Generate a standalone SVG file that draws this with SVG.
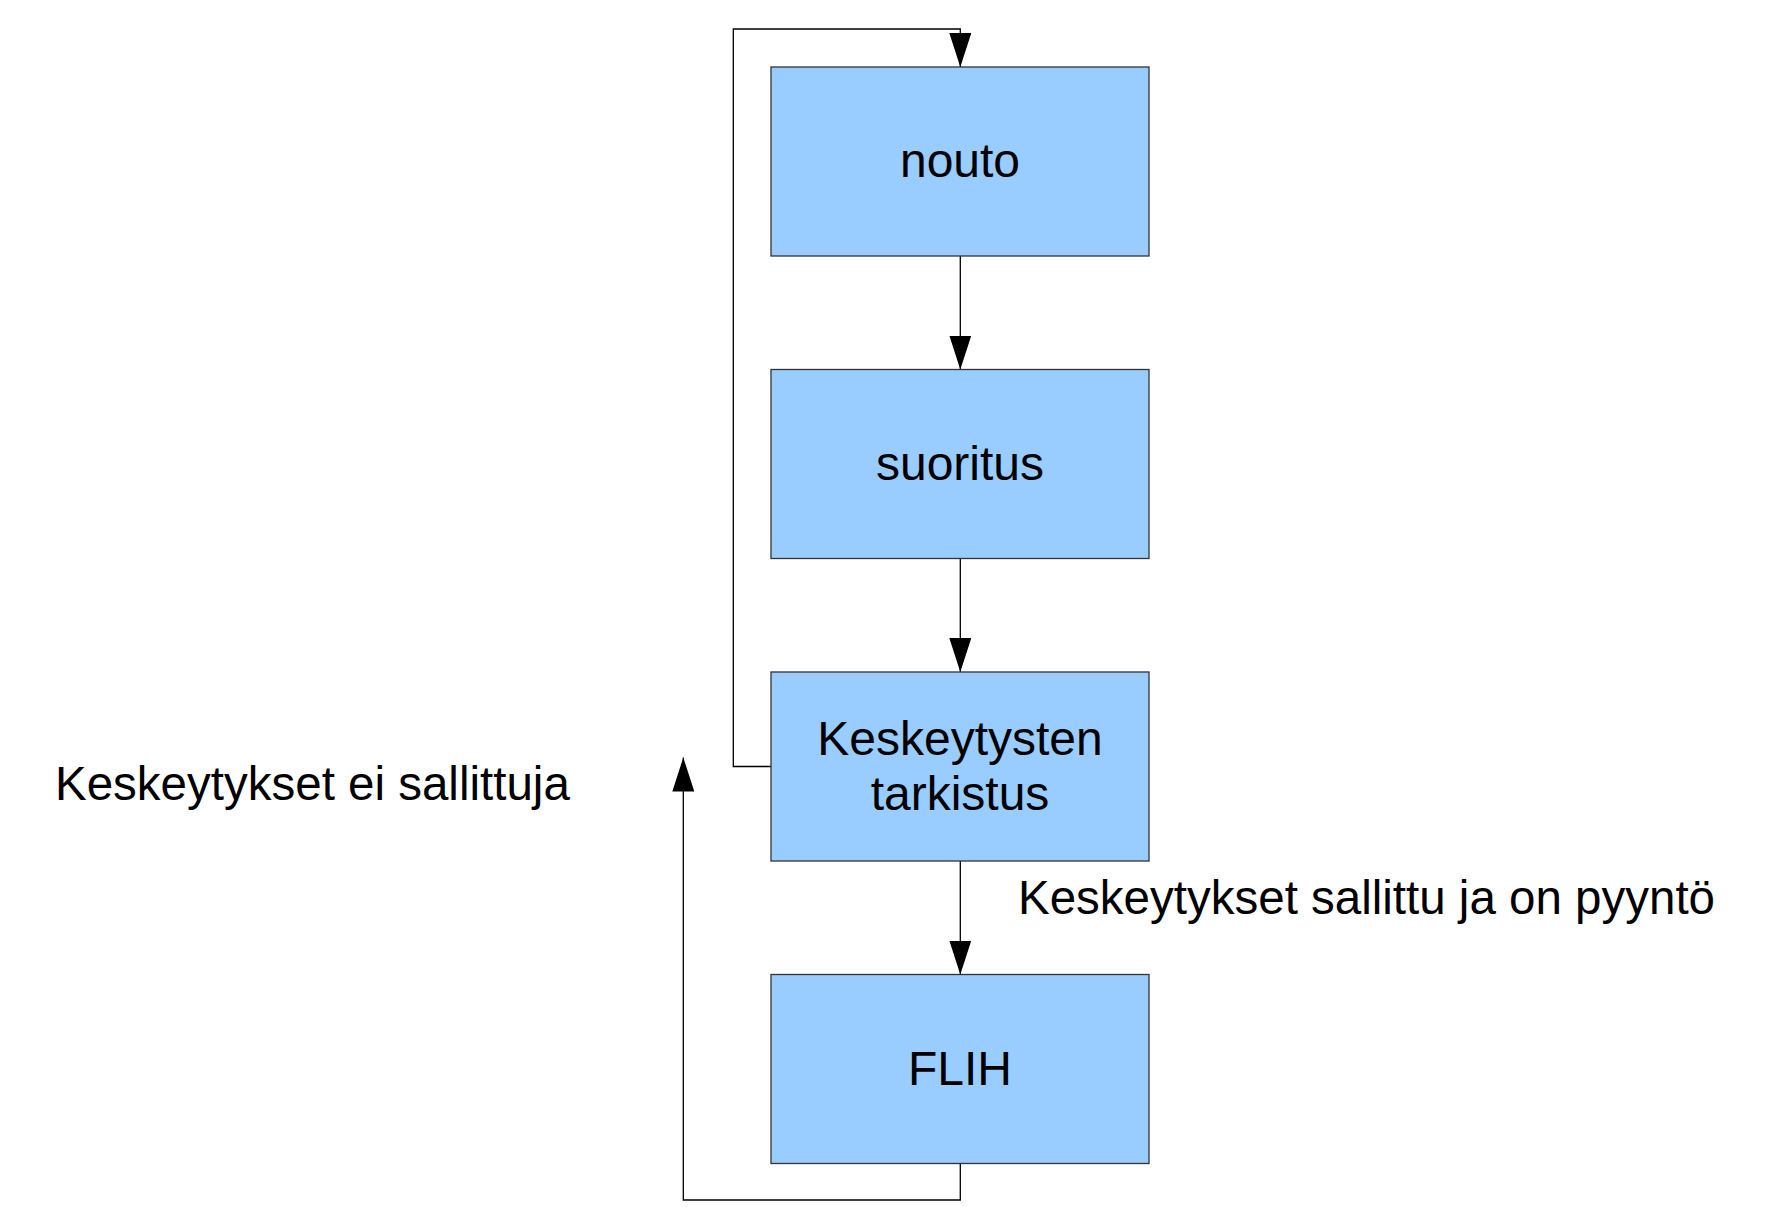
<svg xmlns="http://www.w3.org/2000/svg" width="1781" height="1207" viewBox="0 0 1781 1207">
<style>
.box{fill:#99ccff;stroke:#333333;stroke-width:1.3}
.lbl{font-family:"Liberation Sans",Arial,sans-serif;font-size:48px;fill:#000}
.side{font-size:47.5px}
.c{text-anchor:middle}
.con{fill:none;stroke:#000;stroke-width:1.3}
</style>
<defs>
<marker id="ah" markerWidth="34" markerHeight="22" refX="34" refY="11" orient="auto" markerUnits="userSpaceOnUse" viewBox="0 0 34 22">
<path d="M0,0 L34,11 L0,22 Z" fill="#000"/>
</marker>
</defs>
<rect width="1781" height="1207" fill="#fff"/>
<g id="connectors">
<path class="con" d="M771,766.5 H733.3 V29 H960.3 V67" marker-end="url(#ah)"/>
<path class="con" d="M960.3,256 V369.5" marker-end="url(#ah)"/>
<path class="con" d="M960.3,558.5 V672" marker-end="url(#ah)"/>
<path class="con" d="M960.3,861 V974.5" marker-end="url(#ah)"/>
<path class="con" d="M960.3,1163.5 V1200 H683.3 V757.5" marker-end="url(#ah)"/>
</g>
<g id="node-nouto">
<rect class="box" x="771" y="67" width="378" height="189"/>
<text class="lbl c" x="960" y="177">nouto</text>
</g>
<g id="node-suoritus">
<rect class="box" x="771" y="369.5" width="378" height="189"/>
<text class="lbl c" x="960" y="479.5">suoritus</text>
</g>
<g id="node-tarkistus">
<rect class="box" x="771" y="672" width="378" height="189"/>
<text class="lbl c" x="960" y="755">Keskeytysten</text>
<text class="lbl c" x="960" y="809.5">tarkistus</text>
</g>
<g id="node-flih">
<rect class="box" x="771" y="974.5" width="378" height="189"/>
<text class="lbl c" x="960" y="1084.5">FLIH</text>
</g>
<g id="labels">
<text class="lbl side" x="55" y="800">Keskeytykset ei sallittuja</text>
<text class="lbl side" x="1018" y="914">Keskeytykset sallittu ja on pyyntö</text>
</g>
</svg>
